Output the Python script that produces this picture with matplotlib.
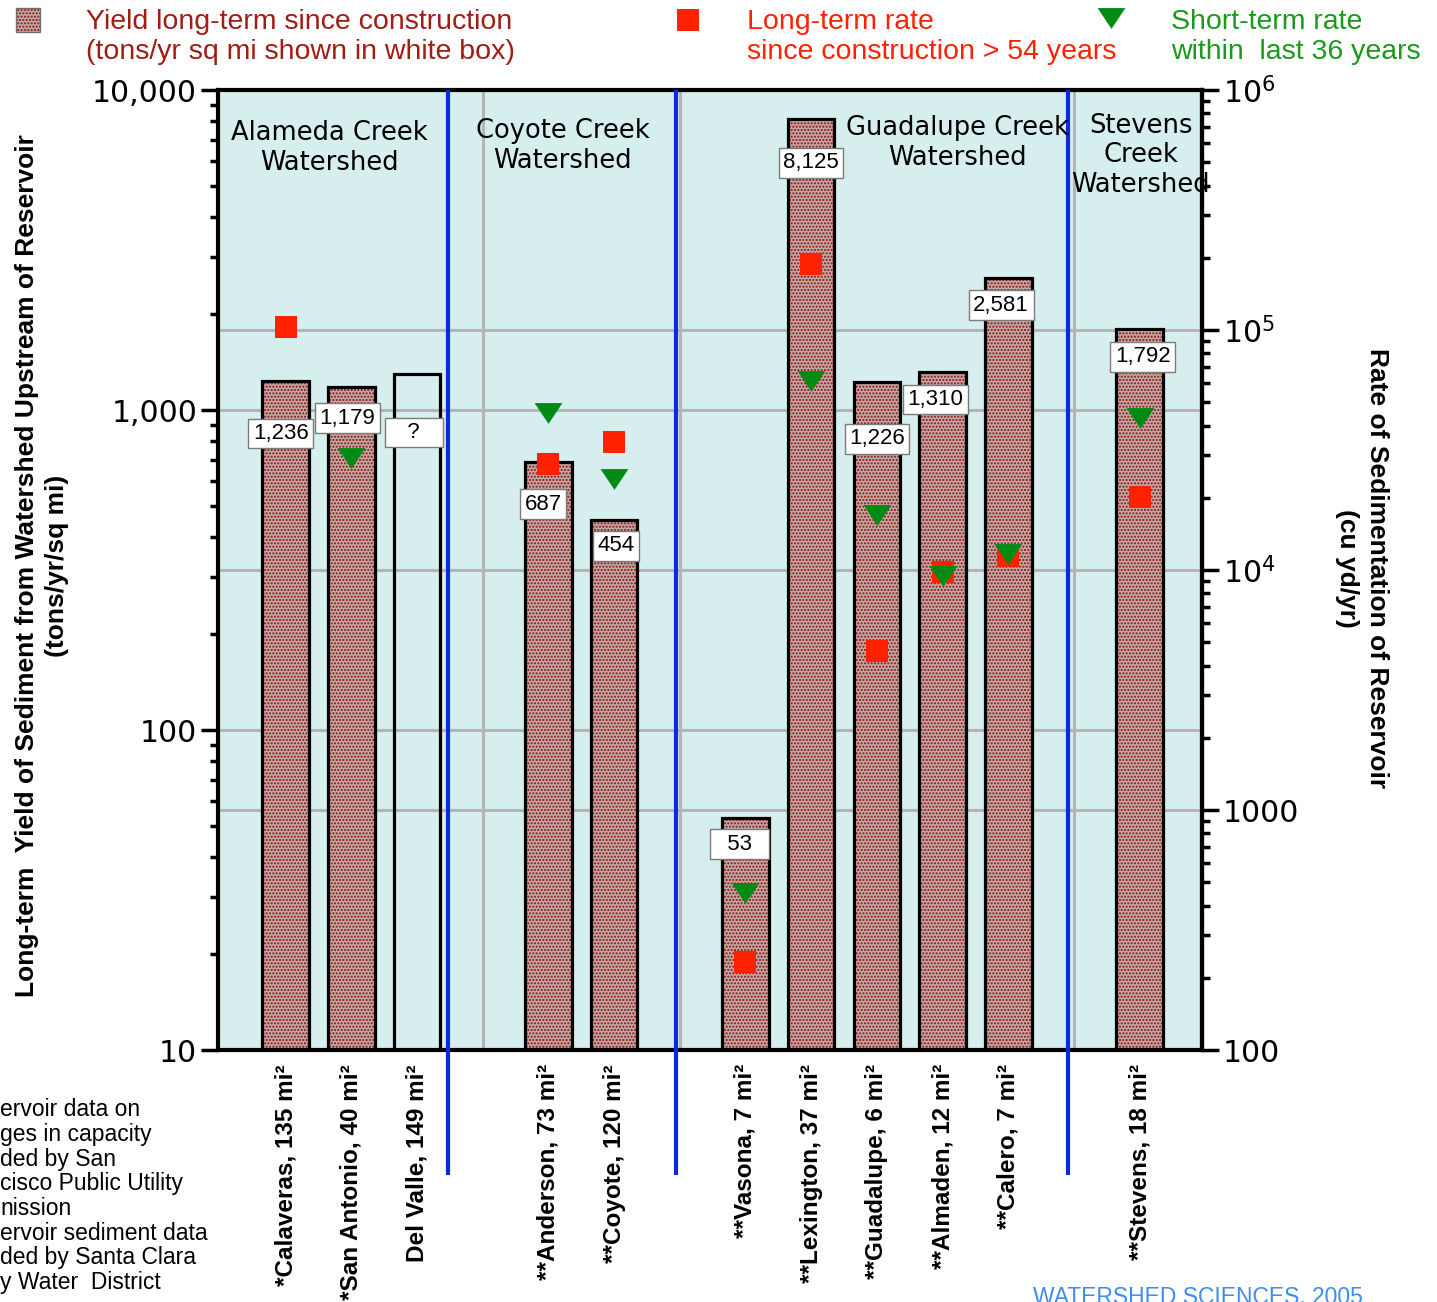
import numpy as np
import matplotlib
matplotlib.use('Agg')
import matplotlib.pyplot as plt
from matplotlib.patches import Rectangle
from matplotlib.lines import Line2D
from matplotlib.ticker import LogLocator, NullFormatter

# reservoirs, drainage areas and slot on the x axis
reservoirs = ['*Calaveras, 135 mi²', '*San Antonio, 40 mi²', 'Del Valle, 149 mi²',
              '**Anderson, 73 mi²', '**Coyote, 120 mi²',
              '**Vasona, 7 mi²', '**Lexington, 37 mi²', '**Guadalupe, 6 mi²',
              '**Almaden, 12 mi²', '**Calero, 7 mi²',
              '**Stevens, 18 mi²']
slots = [0, 1, 2, 4, 5, 7, 8, 9, 10, 11, 13]

# long-term yield (tons/yr/sq mi), left axis
yield_lt = [1236, 1179, 1300, 687, 454, 53, 8125, 1226, 1310, 2581, 1792]
yield_txt = ['1,236', '1,179', '?', '687', '454', '53', '8,125', '1,226', '1,310', '2,581', '1,792']
has_yield = [True, True, False, True, True, True, True, True, True, True, True]

# rate of sedimentation (cu yd/yr), right axis
rate_long = [103000, np.nan, np.nan, 27600, 34000, 233, 188000, 4600, 9800, 11400, 20100]
rate_short = [np.nan, 29300, np.nan, 45300, 24000, 450, 61300, 17000, 9400, 11700, 42800]

watersheds = ['Alameda Creek\nWatershed', 'Coyote Creek\nWatershed',
              'Guadalupe Creek\nWatershed', 'Stevens\nCreek\nWatershed']

footnote = ['ervoir data on', 'ges in capacity', 'ded by San', 'cisco Public Utility',
            'nission', 'ervoir sediment data', 'ded by Santa Clara', 'y Water  District']

W, H = 1437, 1302
RED = '#ff2200'
GREEN = '#008c14'
BLUE = '#0a2ae0'
GRID = '#b4b4b4'


def px(x, y):
    return x / W, 1 - y / H


# left axis (10..10^4) and right axis (100..10^6) share the same height
def left_to_right(y):
    y = np.clip(y, 1e-300, None)
    return 10 ** (2 + (np.log10(y) - 1) * 4 / 3)


def right_to_left(v):
    v = np.clip(v, 1e-300, None)
    return 10 ** (1 + (np.log10(v) - 2) * 0.75)


plt.rcParams['hatch.linewidth'] = 1.0
fig = plt.figure(figsize=(W / 100, H / 100), dpi=100)
ax = fig.add_axes([218 / W, 252 / H, 984 / W, 960 / H])
ax.set_facecolor('#d6efee')
ax.set_yscale('log')
ax.set_ylim(10, 10000)
ax.set_xlim(-1.03, 13.95)
ax.set_axisbelow(True)

# grid
ax.set_xticks(range(14), minor=True)
ax.grid(axis='x', which='minor', color=GRID, lw=2.2)
ax.grid(axis='y', which='major', color=GRID, lw=2.2)
for v in [1e3, 1e4, 1e5]:
    ax.axhline(right_to_left(v), color=GRID, lw=2.2, zorder=0.5)

# bars
xb = [s for s, h in zip(slots, has_yield) if h]
yb = [v for v, h in zip(yield_lt, has_yield) if h]
ax.bar(xb, yb, width=0.71, color='#c0a9a6', edgecolor='#8e0d0d', linewidth=0, hatch='.....', zorder=2)
ax.bar(slots, yield_lt, width=0.71, fill=False, edgecolor='black', linewidth=2.3, zorder=3)

# white value boxes (offsets in pixels from bar top)
box_dx = [-5, -4, -3, -5, 2, -6, 0, 0, -7, -7, 3]
box_dy = [53, 31, 59, 42, 26, 26, 44, 57, 27, 27, 28]
for s, v, t, dx, dy in zip(slots, yield_lt, yield_txt, box_dx, box_dy):
    if len(t) < 3:
        t = '   ' + t + '   ' if len(t) == 1 else '  ' + t + '  '
    ax.annotate(t, xy=(s, v), xytext=(dx, -dy), textcoords='offset pixels',
                ha='center', va='center', fontsize=16, family='Liberation Sans', zorder=6,
                bbox=dict(boxstyle='square,pad=0.2', fc='white', ec='#7a7a7a', lw=1))

# markers on the right-axis scale
tri = [(-1, 0.75), (1, 0.75), (0, -0.75), (-1, 0.75)]
ax.plot(slots, right_to_left(np.array(rate_long)), 's', color=RED, ms=16.5, mew=0, zorder=5)
ax.plot(slots, right_to_left(np.array(rate_short)), marker=tri, ls='none', color=GREEN,
        ms=20, mew=0, zorder=5)

# watershed dividers
for xd in [2.47, 5.94, 11.91]:
    ax.plot([xd, xd], [-0.13, 1], color=BLUE, lw=3, transform=ax.get_xaxis_transform(),
            clip_on=False, zorder=4, solid_capstyle='butt')

# watershed titles
for xt, yt, t in zip([0.67, 4.22, 10.23, 13.02], [0.9396, 0.9416, 0.945, 0.932], watersheds):
    ax.text(xt, yt, t, transform=ax.get_xaxis_transform(), ha='center', va='center',
            fontsize=18.5, family='DejaVu Sans', linespacing=1.17, zorder=7)

# axes styling
for sp in ax.spines.values():
    sp.set_linewidth(3)
ax.set_xticks(slots)
ax.set_xticklabels(reservoirs, rotation=90, fontsize=17.5, fontweight='bold',
                   family='Liberation Sans', va='top')
ax.tick_params(axis='x', which='both', length=0, pad=10)
ax.set_yticks([10, 100, 1000, 10000], ['10', '100', '1,000', '10,000'])
ax.yaxis.set_minor_locator(LogLocator(base=10, subs=np.arange(2, 10)))
ax.yaxis.set_minor_formatter(NullFormatter())
ax.tick_params(axis='y', which='major', length=12, width=2.5, labelsize=21.5, pad=3)
ax.tick_params(axis='y', which='minor', length=6, width=2.5)
for lb in ax.get_yticklabels():
    lb.set_family('DejaVu Sans')

sec = ax.secondary_yaxis('right', functions=(left_to_right, right_to_left))
sec.set_yticks([1e2, 1e3, 1e4, 1e5, 1e6], ['100', '1000', r'$10^4$', r'$10^5$', r'$10^6$'])
sec.yaxis.set_minor_locator(LogLocator(base=10, subs=np.arange(2, 10)))
sec.yaxis.set_minor_formatter(NullFormatter())
sec.tick_params(axis='y', which='major', length=12, width=2.5, labelsize=21.5, pad=3)
sec.tick_params(axis='y', which='minor', length=6, width=2.5)
sec.spines['right'].set_linewidth(3)
for lb in sec.get_yticklabels():
    lb.set_family('DejaVu Sans')

# axis titles
fig.text(*px(42, 566), 'Long-term  Yield of Sediment from Watershed Upstream of Reservoir\n(tons/yr/sq mi)',
         rotation=90, ha='center', va='center', multialignment='center', fontsize=19,
         fontweight='bold', family='Liberation Sans', linespacing=1.35)
fig.text(*px(1362, 568), 'Rate of Sedimentation of Reservoir\n(cu yd/yr)',
         rotation=270, ha='center', va='center', multialignment='center', fontsize=19,
         fontweight='bold', family='Liberation Sans', linespacing=1.3)

# legend along the top
sw = Rectangle(px(16, 32), 24 / W, 24 / H, transform=fig.transFigure, facecolor='#c0a9a6',
               edgecolor='#8e0d0d', hatch='.....', linewidth=0)
fig.add_artist(sw)
fig.add_artist(Rectangle(px(16, 32), 24 / W, 24 / H, transform=fig.transFigure, fill=False,
                         edgecolor='#707070', linewidth=1))
fig.add_artist(Line2D([688 / W], [1 - 20 / H], transform=fig.transFigure, marker='s', color=RED,
                      ms=16.5, mew=0, ls='none'))
fig.add_artist(Line2D([1111 / W], [1 - 18 / H], transform=fig.transFigure, marker=tri, color=GREEN,
                      ms=20, mew=0, ls='none'))
fs_leg = 20.5
fig.text(*px(86, 22), 'Yield long-term since construction', color='#a01d14', fontsize=fs_leg,
         family='Liberation Sans', va='center')
fig.text(*px(86, 52), '(tons/yr sq mi shown in white box)', color='#a01d14', fontsize=fs_leg,
         family='Liberation Sans', va='center')
fig.text(*px(747, 22), 'Long-term rate', color=RED, fontsize=fs_leg, family='Liberation Sans', va='center')
fig.text(*px(747, 52), 'since construction > 54 years', color=RED, fontsize=fs_leg,
         family='Liberation Sans', va='center')
fig.text(*px(1171, 22), 'Short-term rate', color='#1a9a1a', fontsize=fs_leg, family='Liberation Sans',
         va='center')
fig.text(*px(1171, 52), 'within  last 36 years', color='#1a9a1a', fontsize=fs_leg,
         family='Liberation Sans', va='center')

# footnote (cut at the left edge) and credit
for i, t in enumerate(footnote):
    fig.text(*px(0, 1110 + i * 24.6), t, fontsize=16.5, family='Liberation Sans', va='center')
fig.text(*px(1033, 1286), 'WATERSHED SCIENCES, 2005', color='#3d8ef0', fontsize=16.5,
         family='Liberation Sans', va='top')

fig.savefig('out.png', dpi=100)
